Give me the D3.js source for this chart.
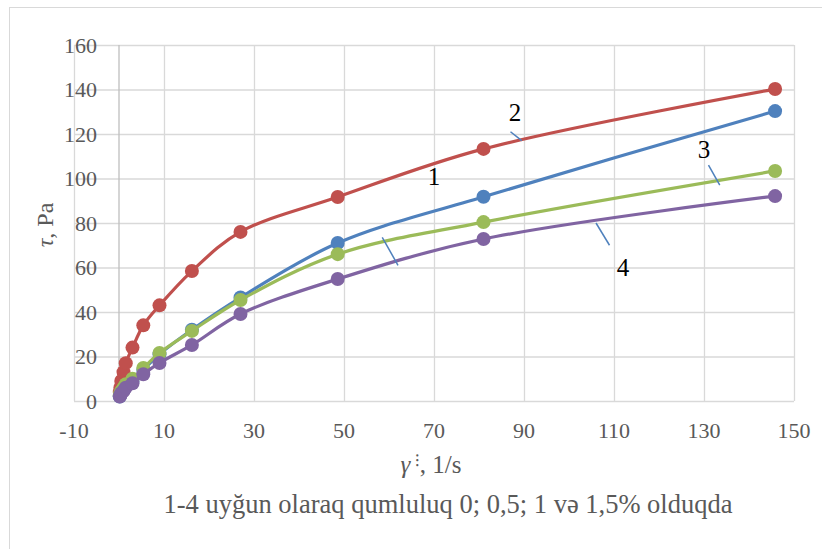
<!DOCTYPE html>
<html><head><meta charset="utf-8">
<script src="https://cdn.jsdelivr.net/npm/d3@7"></script>
<style>body{margin:0;background:#fff}svg{display:block}text{font-family:"Liberation Serif","Times New Roman",serif}</style>
</head><body><svg id="c" width="822" height="549"></svg>
<script>
const shearRates = [0.17, 0.3, 0.5, 1, 1.5, 3, 5.4, 9, 16.2, 27, 48.6, 81, 145.8];
const series1Red    = [4, 6, 9, 13, 17, 24, 34, 43, 58.4, 76, 91.7, 113.3, 140.2];
const series2Blue   = [2, 3, 4, 5, 6.5, 9, 14, 21, 32, 46.5, 71, 91.8, 130.3];
const series3Green  = [2.5, 3.5, 4.5, 6, 7.5, 10, 14.8, 21.6, 31.5, 45.4, 66, 80.4, 103.4];
const series4Purple = [2, 2.5, 3.5, 4.5, 6, 8, 12, 17.1, 25.2, 39.1, 54.8, 72.8, 92.1];
const xTicks = [-10, 10, 30, 50, 70, 90, 110, 130, 150];
const yTicks = [0, 20, 40, 60, 80, 100, 120, 140, 160];
const colors = ["#C0504D", "#4F81BD", "#9BBB59", "#8064A2"];
const labels = [
  {text: "2", x: 88, y: 126, lx1: 87, ly1: 121, lx2: 89.5, ly2: 117},
  {text: "1", x: 70, y: 97, lx1: 58.5, ly1: 73.5, lx2: 62, ly2: 61},
  {text: "3", x: 130, y: 109, lx1: 131, ly1: 106, lx2: 133.5, ly2: 97},
  {text: "4", x: 112, y: 56, lx1: 106, ly1: 80, lx2: 109, ly2: 70}
];

const svg = d3.select("#c");
const x = d3.scaleLinear().domain([-10, 150]).range([74, 794]);
const y = d3.scaleLinear().domain([0, 160]).range([401, 45]);

svg.append("rect").attr("x", 9.5).attr("y", 7.5).attr("width", 830).attr("height", 560)
  .attr("fill", "#fff").attr("stroke", "#d9d9d9").attr("stroke-width", 1);

// gridlines
svg.append("g").selectAll("line").data(xTicks).join("line")
  .attr("x1", d => x(d) + 0.5).attr("x2", d => x(d) + 0.5)
  .attr("y1", y(160)).attr("y2", y(0)).attr("stroke", "#d9d9d9").attr("stroke-width", 1.3);
svg.append("g").selectAll("line").data(yTicks).join("line")
  .attr("x1", x(-10)).attr("x2", x(150))
  .attr("y1", d => y(d) + 0.5).attr("y2", d => y(d) + 0.5).attr("stroke", "#d9d9d9").attr("stroke-width", 1.3);
// y axis at x=0
svg.append("line").attr("x1", x(0)).attr("x2", x(0)).attr("y1", y(160)).attr("y2", y(0))
  .attr("stroke", "#bfbfbf").attr("stroke-width", 1.3);

// tick labels
svg.append("g").selectAll("text").data(yTicks).join("text")
  .attr("x", 97).attr("y", d => y(d) + 7.5).attr("text-anchor", "end")
  .attr("font-size", 22).attr("fill", "#595959").text(d => d);
svg.append("g").selectAll("text").data(xTicks).join("text")
  .attr("x", d => x(d)).attr("y", 438).attr("text-anchor", "middle")
  .attr("font-size", 22).attr("fill", "#595959").text(d => d);

// axis titles
svg.append("text").attr("transform", "translate(53,225) rotate(-90)").attr("text-anchor", "middle")
  .attr("font-size", 24).attr("fill", "#595959")
  .call(t => { t.append("tspan").attr("font-style", "italic").text("τ"); t.append("tspan").text(", Pa"); });
const xt = svg.append("text").attr("x", 431).attr("y", 473).attr("text-anchor", "middle")
  .attr("font-size", 25).attr("fill", "#595959");
xt.append("tspan").attr("font-style", "italic").text("γ");
xt.append("tspan").attr("font-size", 17).attr("dy", -7).text(" ⁝");
xt.append("tspan").attr("dy", 7).text(", 1/s");

svg.append("text").attr("x", 448).attr("y", 513).attr("text-anchor", "middle")
  .attr("font-size", 26.5).attr("fill", "#595959").text("1-4 uyğun olaraq qumluluq 0; 0,5; 1 və 1,5% olduqda");

// series
const allSeries = [series1Red, series2Blue, series3Green, series4Purple];
const line = d3.line().x(d => x(d[0])).y(d => y(d[1])).curve(d3.curveCatmullRom.alpha(0.5));
allSeries.forEach((s, i) => {
  const pts = shearRates.map((r, k) => [r, s[k]]);
  const g = svg.append("g");
  g.append("path").attr("d", line(pts)).attr("fill", "none")
    .attr("stroke", colors[i]).attr("stroke-width", 3.2).attr("stroke-linejoin", "round");
  g.selectAll("circle").data(pts).join("circle")
    .attr("cx", d => x(d[0])).attr("cy", d => y(d[1])).attr("r", 7).attr("fill", colors[i]);
});

// data labels with leader lines
labels.forEach(l => {
  svg.append("line").attr("x1", x(l.lx1)).attr("y1", y(l.ly1)).attr("x2", x(l.lx2)).attr("y2", y(l.ly2))
    .attr("stroke", "#4F81BD").attr("stroke-width", 1.5);
  svg.append("text").attr("x", x(l.x)).attr("y", y(l.y)).attr("text-anchor", "middle")
    .attr("font-size", 25).attr("fill", "#000").text(l.text);
});
</script></body></html>
